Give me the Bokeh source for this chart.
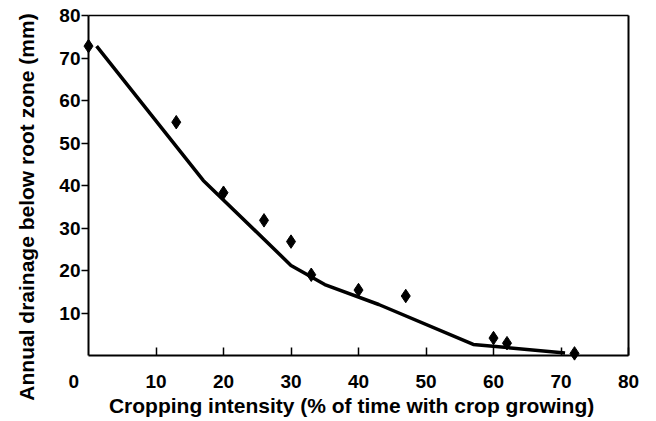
import math
from bokeh.plotting import figure
from bokeh.models import Range1d, LinearAxis, FixedTicker, Label
from bokeh.embed import file_html
from bokeh.resources import INLINE

# Observed points (diamonds)
x_obs = [0, 13, 20, 26, 30, 33, 40, 47, 60, 62, 72]
y_obs = [72.8, 54.9, 38.3, 31.8, 26.8, 19.0, 15.4, 14.0, 4.1, 2.9, 0.5]

# Fitted line
x_fit = [1.2, 17, 30, 35, 43, 57, 70.6]
y_fit = [72.8, 41.2, 21.2, 16.7, 12.0, 2.6, 0.6]

x_ticks = [10, 20, 30, 40, 50, 60, 70, 80]
y_ticks = [10, 20, 30, 40, 50, 60, 70, 80]
x_title = "Cropping intensity  (% of time with crop growing)"
y_title = "Annual drainage below root zone (mm)"
origin_label = "0"

AX_MIN, AX_MAX = 0, 80
FONT = "Liberation Sans"
W, H = 656, 421
# frame = whole canvas; data 0..80 mapped to canvas x 88..628 and y 355..15
L, R, T, B = 88, 628, 15, 355
SX = (R - L) / 80.0
SY = (B - T) / 80.0

def dx(px):
    return (px - L) / SX

def dy(py):
    return (B - py) / SY

p = figure(width=W, height=H, output_backend="svg", toolbar_location=None,
           x_range=Range1d(dx(0), dx(W)), y_range=Range1d(dy(H), dy(0)),
           x_axis_type=None, y_axis_type=None,
           min_border_left=0, min_border_right=0, min_border_top=0, min_border_bottom=0)
p.outline_line_color = None
p.xgrid.visible = False
p.ygrid.visible = False
p.background_fill_color = "white"
p.border_fill_color = "white"

def style(ax):
    ax.major_label_text_font = FONT
    ax.major_label_text_font_style = "bold"
    ax.major_label_text_font_size = "19px"
    ax.major_label_text_color = "black"
    ax.minor_tick_line_color = None
    ax.axis_line_color = "black"
    ax.major_tick_line_color = "black"

xa = LinearAxis(ticker=FixedTicker(ticks=x_ticks), fixed_location=AX_MIN, bounds=(AX_MIN, AX_MAX))
style(xa)
xa.axis_line_width = 2
xa.major_tick_in = 8
xa.major_tick_out = 0
xa.major_tick_line_width = 1.5
xa.major_label_standoff = 19
p.add_layout(xa, "below")

ya = LinearAxis(ticker=FixedTicker(ticks=y_ticks), fixed_location=AX_MIN, bounds=(AX_MIN, AX_MAX))
style(ya)
ya.axis_line_width = 2
ya.major_tick_in = 0
ya.major_tick_out = 7
ya.major_tick_line_width = 1.5
ya.major_label_standoff = 1
p.add_layout(ya, "left")

# frame top and right edges
for side, lw in (("above", 1.5), ("right", 2)):
    ea = LinearAxis(ticker=FixedTicker(ticks=[]), fixed_location=AX_MAX, bounds=(AX_MIN, AX_MAX))
    ea.axis_line_width = lw
    ea.axis_line_color = "black"
    ea.major_tick_line_color = None
    ea.minor_tick_line_color = None
    p.add_layout(ea, side)

p.line(x_fit, y_fit, line_color="black", line_width=3.5, line_join="round")
p.scatter(x_obs, y_obs, marker="diamond", size=13.5, fill_color="black", line_color="black")

def text_label(px, py, txt, size, angle=0.0):
    p.add_layout(Label(x=dx(px), y=dy(py), text=txt, angle=angle,
                       text_align="center", text_baseline="middle",
                       text_font=FONT, text_font_style="bold", text_font_size=size,
                       text_color="black"))

# "0" label of the x axis (offset left of the origin as in the original)
text_label(73.3, 381, origin_label, "19px")
# axis titles
text_label(354, 405, x_title, "21px")
text_label(25.8, 206.5, y_title, "21px", angle=math.pi / 2)

open("out.html", "w").write(file_html(p, INLINE))
